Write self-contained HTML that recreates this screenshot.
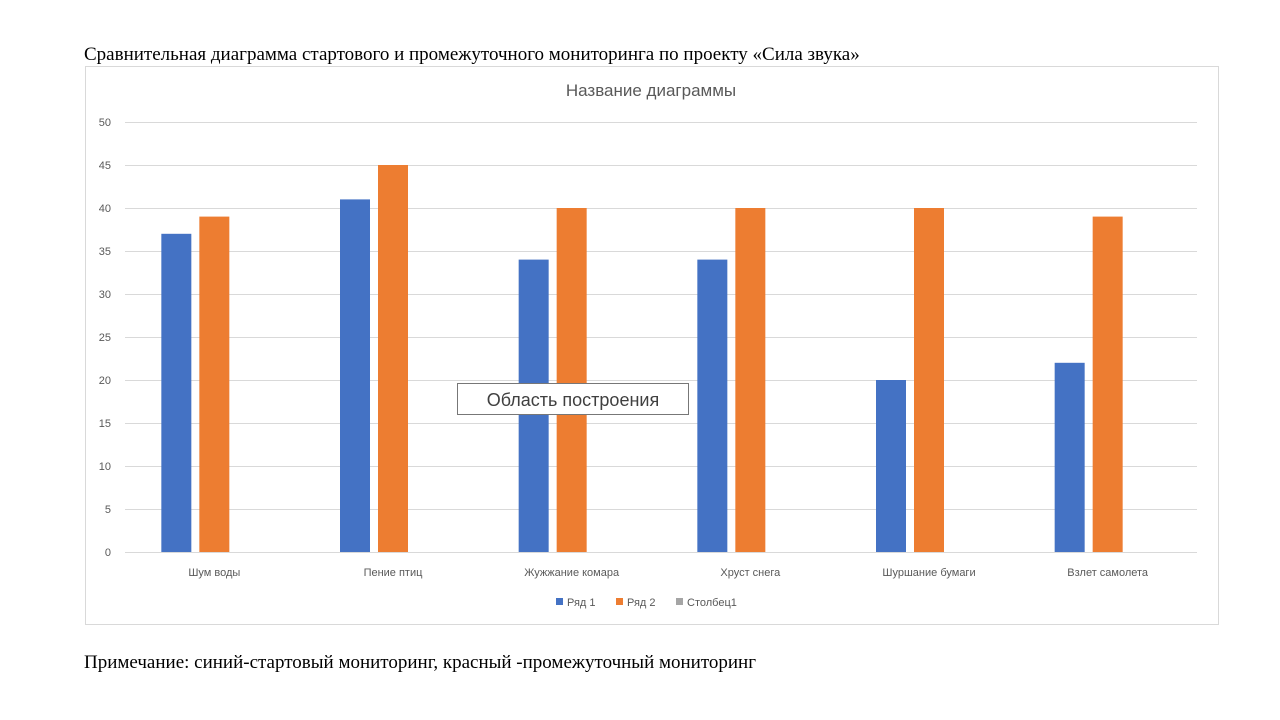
<!DOCTYPE html>
<html><head><meta charset="utf-8"><style>
body{margin:0;width:1280px;height:720px;background:#fff;overflow:hidden;position:relative;font-family:"Liberation Sans","DejaVu Sans",sans-serif}
.cap{position:absolute;font-family:"Liberation Serif",serif;font-size:19px;color:#000}
</style></head><body>
<div class="cap" style="left:84px;top:44px">Сравнительная диаграмма стартового и промежуточного мониторинга по проекту «Сила звука»</div>
<div class="cap" style="left:84px;top:652px">Примечание: синий-стартовый мониторинг, красный -промежуточный мониторинг</div>
<svg id="chart" width="1280" height="720" style="position:absolute;left:0;top:0">
<rect x="85.5" y="66.5" width="1133" height="558" fill="none" stroke="#d9d9d9"/>
<text x="651" y="96" text-anchor="middle" font-size="17" fill="#595959">Название диаграммы</text>
<g id="grid"></g><g id="bars"></g><g id="labels"></g>
<g font-size="11" fill="#595959">
<rect x="556" y="598" width="7" height="7" fill="#4472c4"/><text x="567" y="606">Ряд 1</text>
<rect x="616" y="598" width="7" height="7" fill="#ed7d31"/><text x="627" y="606">Ряд 2</text>
<rect x="676" y="598" width="7" height="7" fill="#a5a5a5"/><text x="687" y="606">Столбец1</text>
</g>
<g>
<rect x="457.5" y="383.5" width="231" height="31" fill="#fff" stroke="#777"/>
<text x="573" y="406" text-anchor="middle" font-size="18" fill="#404040">Область построения</text>
</g>
</svg>
<script>
const categories=["Шум воды","Пение птиц","Жужжание комара","Хруст снега","Шуршание бумаги","Взлет самолета"];
const series1=[37,41,34,34,20,22];
const series2=[39,45,40,40,40,39];
const ticks=[0,5,10,15,20,25,30,35,40,45,50];
const NS="http://www.w3.org/2000/svg";
const x0=125,x1=1197,yb=552,yt=122,vmax=50;
const y=v=>yb-(yb-yt)*v/vmax;
const cw=(x1-x0)/categories.length;
function mk(tag,attrs,parent,txt){const e=document.createElementNS(NS,tag);for(const k in attrs)e.setAttribute(k,attrs[k]);if(txt!==undefined)e.textContent=txt;parent.appendChild(e);return e;}
const grid=document.getElementById('grid'),bars=document.getElementById('bars'),labels=document.getElementById('labels');
ticks.forEach(t=>{
  const l=mk('line',{x1:x0,x2:x1,y1:y(t)+0.5,y2:y(t)+0.5,stroke:'#d9d9d9'},grid);
  
  
  const tx=mk('text',{x:111,y:y(t)+4,'text-anchor':'end','font-size':11,fill:'#595959'},grid,t);
  
  
});
const bw=30,gap=8;
categories.forEach((c,i)=>{
  const cx=x0+cw*i+cw/2;
  const start=cx-(3*bw+2*gap)/2;
  const b1=mk('rect',{x:start,y:y(series1[i]),width:bw,height:yb-y(series1[i]),fill:'#4472c4'},bars);
  
  
  const b2=mk('rect',{x:start+bw+gap,y:y(series2[i]),width:bw,height:yb-y(series2[i]),fill:'#ed7d31'},bars);
  
  
  const t=mk('text',{x:cx,y:576,'text-anchor':'middle','font-size':11,fill:'#595959'},labels,c);
  
  
});
</script>
</body></html>
